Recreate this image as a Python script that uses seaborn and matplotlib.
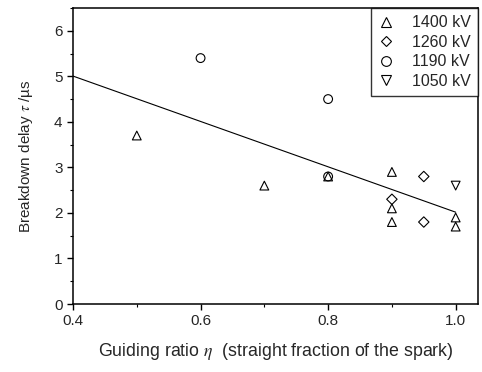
import numpy as np
import pandas as pd
import matplotlib
matplotlib.use("Agg")
import matplotlib.pyplot as plt
from matplotlib.ticker import MultipleLocator
import seaborn as sns

# data
eta_1400 = [0.5, 0.7, 0.8, 0.9, 0.9, 0.9, 1.0, 1.0]
tau_1400 = [3.7, 2.6, 2.8, 2.9, 2.1, 1.8, 1.9, 1.7]
eta_1260 = [0.9, 0.95, 0.95]
tau_1260 = [2.3, 2.8, 1.8]
eta_1190 = [0.6, 0.8, 0.8]
tau_1190 = [5.4, 4.5, 2.8]
eta_1050 = [1.0]
tau_1050 = [2.6]
voltages = ["1400 kV", "1260 kV", "1190 kV", "1050 kV"]
marker_map = {"1400 kV": "^", "1260 kV": "D", "1190 kV": "o", "1050 kV": "v"}
fit_range = [0.4, 1.0]

df = pd.concat([
    pd.DataFrame({"eta": eta_1400, "tau": tau_1400, "V": "1400 kV"}),
    pd.DataFrame({"eta": eta_1260, "tau": tau_1260, "V": "1260 kV"}),
    pd.DataFrame({"eta": eta_1190, "tau": tau_1190, "V": "1190 kV"}),
    pd.DataFrame({"eta": eta_1050, "tau": tau_1050, "V": "1050 kV"}),
], ignore_index=True)

sns.set_style("ticks")
plt.rcParams["font.family"] = ["Liberation Sans", "DejaVu Sans"]
plt.rcParams["mathtext.fontset"] = "stix"

fig = plt.figure(figsize=(4.82, 3.72), dpi=100)
ax = fig.add_axes([73 / 482, 68 / 372, 405 / 482, 296 / 372])

# linear fit over all points
k, b = np.polyfit(df["eta"], df["tau"], 1)
xs = np.array(fit_range)
ax.plot(xs, k * xs + b, color="black", lw=0.8, zorder=1)

sizes = {"1400 kV": 40, "1260 kV": 28, "1190 kV": 40, "1050 kV": 40}
handles = []
for v in voltages:
    sub = df[df["V"] == v]
    sns.scatterplot(data=sub, x="eta", y="tau", marker=marker_map[v], s=sizes[v],
                    facecolor="none", edgecolor="black", linewidth=0.8, ax=ax,
                    legend=False, zorder=3)
    handles.append(plt.Line2D([], [], ls="none", marker=marker_map[v],
                              ms=7 if marker_map[v] != "D" else 5.5,
                              mfc="none", mec="black", mew=0.8, label=v))

ax.set_xlim(0.4, 1.035)
ax.set_ylim(0, 6.5)
ax.xaxis.set_major_locator(MultipleLocator(0.2))
ax.xaxis.set_minor_locator(MultipleLocator(0.1))
ax.yaxis.set_major_locator(MultipleLocator(1))
ax.yaxis.set_minor_locator(MultipleLocator(0.5))
ax.set_xticks([0.4, 0.6, 0.8, 1.0])
ax.set_xticklabels(["0.4", "0.6", "0.8", "1.0"])
ax.tick_params(which="major", direction="out", length=4, width=1, labelsize=11, color="black")
ax.tick_params(which="minor", direction="out", length=2.5, width=0.8, color="black")
for s in ax.spines.values():
    s.set_visible(True)
    s.set_color("black")
    s.set_linewidth(1.1)

ax.set_xlabel(r"Guiding ratio $\eta$  (straight fraction of the spark)", fontsize=12.8, labelpad=9)
ax.set_ylabel(r"Breakdown delay $\tau$ /µs", fontsize=11, labelpad=14)

leg = ax.legend(handles=handles, loc="upper right", fontsize=11.5, frameon=True,
                fancybox=False, borderaxespad=0, handletextpad=1.1,
                labelspacing=0.28, borderpad=0.45, handlelength=1.0)
leg.get_frame().set_edgecolor("black")
leg.get_frame().set_linewidth(1.0)

fig.savefig("out.png", dpi=100)
